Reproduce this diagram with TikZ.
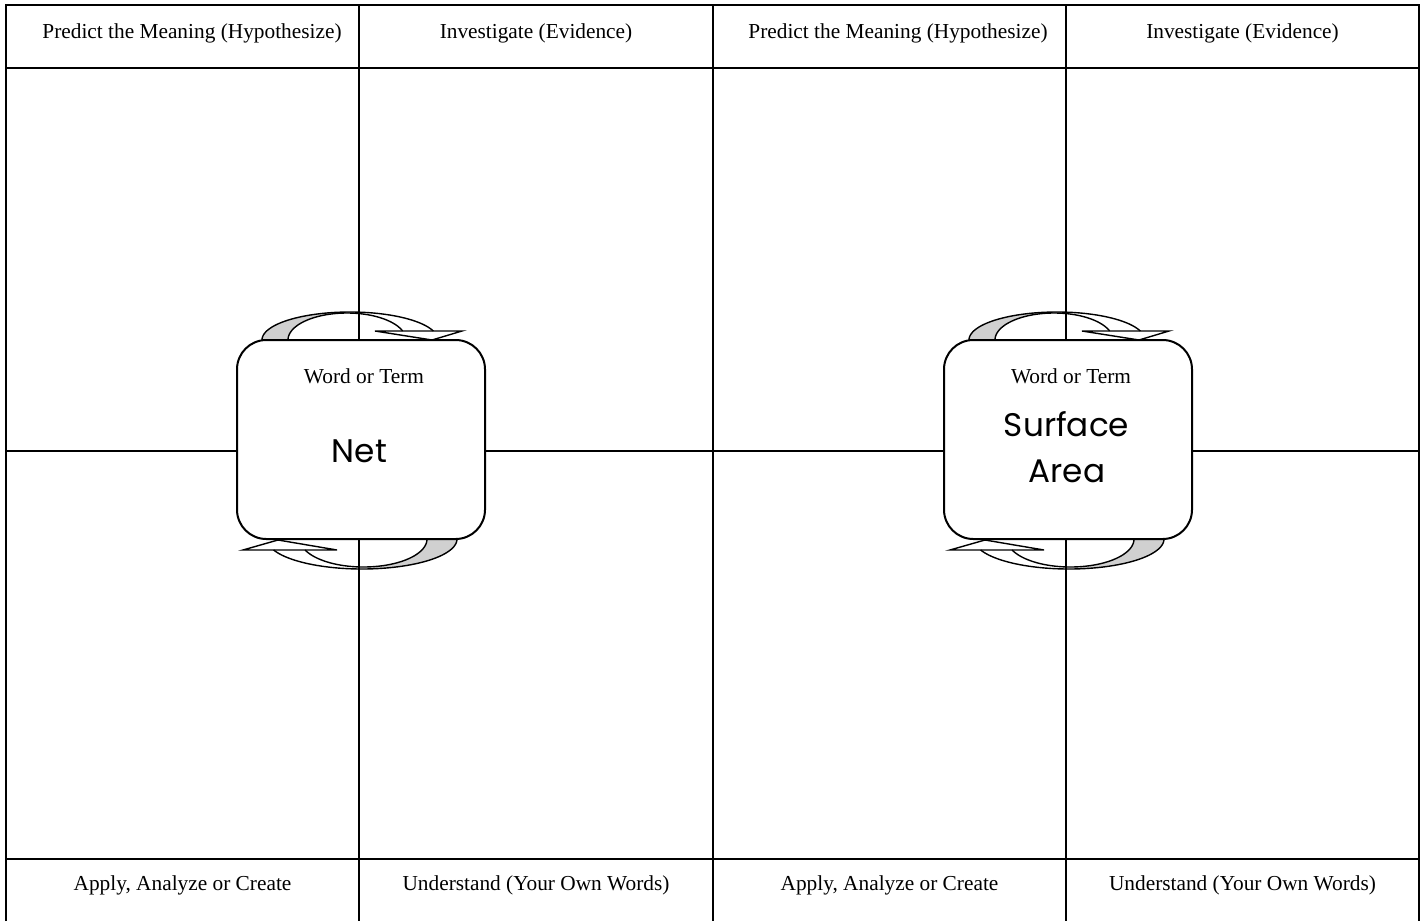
\documentclass[tikz,border=0pt]{standalone}
\usepackage{fontspec}
\setmainfont{Liberation Serif}
\newfontfamily\gothic{Poppins}
\definecolor{arrowgray}{RGB}{208,208,208}
\newcommand\cyclearrows{%
  % upper curved arrow
  \fill[arrowgray] plot[domain=180:263.5,samples=30] ({350+88*cos(\x)},{340+28*sin(\x)})
     -- plot[domain=263.2:180,samples=30] ({347+59*cos(\x)},{340+27*sin(\x)}) -- cycle;
  \draw[arr] plot[domain=180:341.25,samples=60] ({350+88*cos(\x)},{340+28*sin(\x)});
  \draw[arr] plot[domain=180:340.5,samples=60] ({347+59*cos(\x)},{340+27*sin(\x)});
  \draw[arr] (375,331) -- (462,331) -- (432,340) -- cycle;
  % lower curved arrow
  \fill[arrowgray] plot[domain=0:83.35,samples=30] ({362+95*cos(\x)},{539+30*sin(\x)})
     -- plot[domain=81.4:0,samples=30] ({363.5+63.5*cos(\x)},{539+28*sin(\x)}) -- cycle;
  \draw[arr] plot[domain=0:158.5,samples=60] ({362+95*cos(\x)},{539+30*sin(\x)});
  \draw[arr] plot[domain=0:156.9,samples=60] ({363.5+63.5*cos(\x)},{539+28*sin(\x)});
  \draw[arr] (243,550) -- (337,550) -- (278,540) -- cycle;
}
\begin{document}
\begin{tikzpicture}[x=0.75pt,y=-0.75pt,
  grid/.style={line width=1.7pt, line join=miter},
  hdr/.style={font=\fontsize{16}{19}\selectfont, anchor=base, inner sep=0pt},
  big/.style={font=\gothic\fontsize{24.5}{30}\selectfont, anchor=base, inner sep=0pt},
  termbox/.style={draw, line width=1.5pt, fill=white, rounded corners=22pt,
     minimum width=186pt, minimum height=149.25pt, inner sep=0pt},
  arr/.style={line width=1.05pt, line join=miter}]
\useasboundingbox (0,0) rectangle (1424,921);
% grid
\draw[grid] (6,921) -- (6,5) -- (1419,5) -- (1419,921);
\foreach \gx in {359,713,1066} \draw[grid] (\gx,5) -- (\gx,921);
\draw[grid] (6,68) -- (1419,68);
\draw[grid] (6,859) -- (1419,859);
\draw[grid] (6,451) -- (1419,451);
% headers and footers
\node[hdr] (h1) at (192,38) {Predict the Meaning (Hypothesize)};
\node[hdr] (h2) at (536,38) {Investigate (Evidence)};
\node[hdr] (h3) at (898,38) {Predict the Meaning (Hypothesize)};
\node[hdr] (h4) at (1242.5,38) {Investigate (Evidence)};
\node[hdr] (f1) at (182.5,890) {Apply, Analyze or Create};
\node[hdr] (f2) at (536,890) {Understand (Your Own Words)};
\node[hdr] (f3) at (889.5,890) {Apply, Analyze or Create};
\node[hdr] (f4) at (1242.5,890) {Understand (Your Own Words)};
% curved arrows
\cyclearrows
\begin{scope}[shift={(707,0)}]
\cyclearrows
\end{scope}
% term boxes
\node[termbox] (box1) at (361,439.5) {};
\node[termbox] (box2) at (1068,439.5) {};
\node[hdr] (w1) at (364,383) {Word or Term};
\node[hdr] (w2) at (1071,383) {Word or Term};
\node[big] (t1) at (359.5,462) {Net};
\node[big] (t2a) at (1066.5,436) {Surface};
\node[big] (t2b) at (1067,482) {Area};
\end{tikzpicture}
\end{document}
